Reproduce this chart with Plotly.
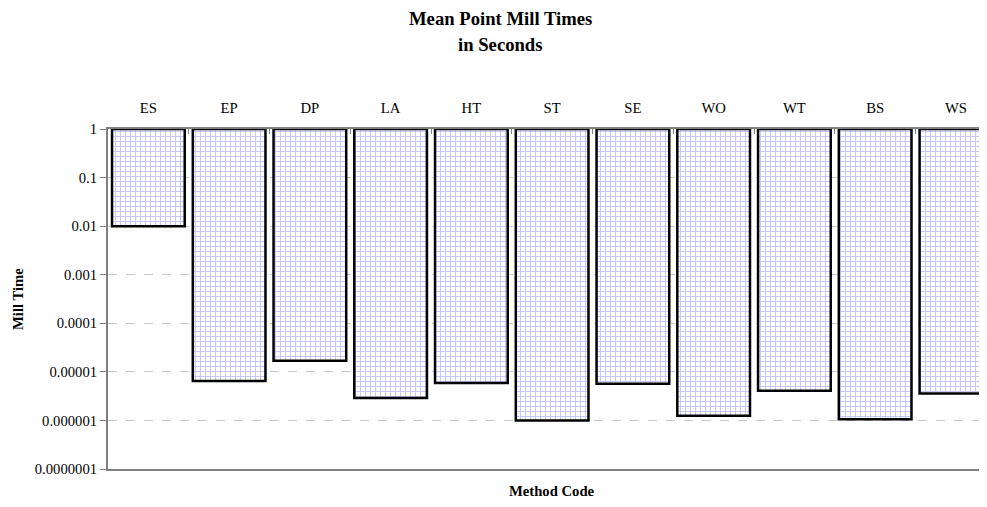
import plotly.graph_objects as go

categories = ["ES", "EP", "DP", "LA", "HT", "ST", "SE", "WO", "WT", "BS", "WS"]
mill_times = [0.01, 6.5e-6, 1.7e-5, 2.9e-6, 5.9e-6, 1.0e-6, 5.7e-6, 1.25e-6, 4.1e-6, 1.06e-6, 3.6e-6]
top_value = 1.0
y_tickvals = [1, 0.1, 0.01, 0.001, 0.0001, 0.00001, 0.000001, 0.0000001]
y_ticktext = ["1", "0.1", "0.01", "0.001", "0.0001", "0.00001", "0.000001", "0.0000001"]

serif = "Liberation Serif, Times New Roman, serif"
FS = 14.67
TS = 18.67

OFF = 8  # page body margin
W, H = 987 - OFF, 507 - OFF
L, T = 108 - OFF, 129 - OFF
B = H - (469 - OFF)

fig = go.Figure()
fig.add_trace(go.Bar(
    x=categories,
    y=[v - top_value for v in mill_times],
    base=[top_value] * len(mill_times),
    width=0.9,
    marker=dict(
        color="white",
        line=dict(color="black", width=2.5),
        pattern=dict(shape="+", fgcolor="#8080ff", bgcolor="white", size=5, solidity=0.32, fillmode="overlay"),
    ),
    showlegend=False,
))

fig.update_layout(
    width=W, height=H,
    margin=dict(l=L, r=0, t=T, b=B, autoexpand=False),
    paper_bgcolor="white", plot_bgcolor="white",
    font=dict(family=serif, size=FS, color="black"),
    xaxis=dict(
        side="top", type="category", automargin=False,
        range=[-0.5, 10.385],
        showline=True, linecolor="#808080", linewidth=2, mirror=True,
        ticks="inside", tickson="boundaries", ticklen=5, tickcolor="#808080",
        ticklabelstandoff=8,
        tickfont=dict(family=serif, size=FS),
        showgrid=False, zeroline=False,
    ),
    yaxis=dict(
        type="log", range=[-7, 0], automargin=False,
        tickvals=y_tickvals, ticktext=y_ticktext,
        showline=True, linecolor="#808080", linewidth=2,
        ticks="outside", ticklen=6, tickcolor="#808080",
        tickfont=dict(family=serif, size=FS),
        showgrid=True, gridcolor="#c8c8c8", griddash="dash", gridwidth=1,
        zeroline=False,
    ),
)

pw = W - L
ph = H - T - B


def ann(text, px, py, size, angle=0):
    fx, fy = px - OFF, py - OFF
    fig.add_annotation(
        text=text, xref="paper", yref="paper",
        x=(fx - L) / pw, y=(H - fy - B) / ph,
        xanchor="center", yanchor="middle", showarrow=False, textangle=angle,
        font=dict(family=serif, size=size, color="black"),
    )


ann("<b>Mean Point Mill Times</b>", 500, 18, TS)
ann("<b>in Seconds</b>", 500, 44, TS)
ann("<b>Method Code</b>", 552, 491, FS)
ann("<b>Mill Time</b>", 18, 299, FS, -90)

fig.write_html("out.html")
